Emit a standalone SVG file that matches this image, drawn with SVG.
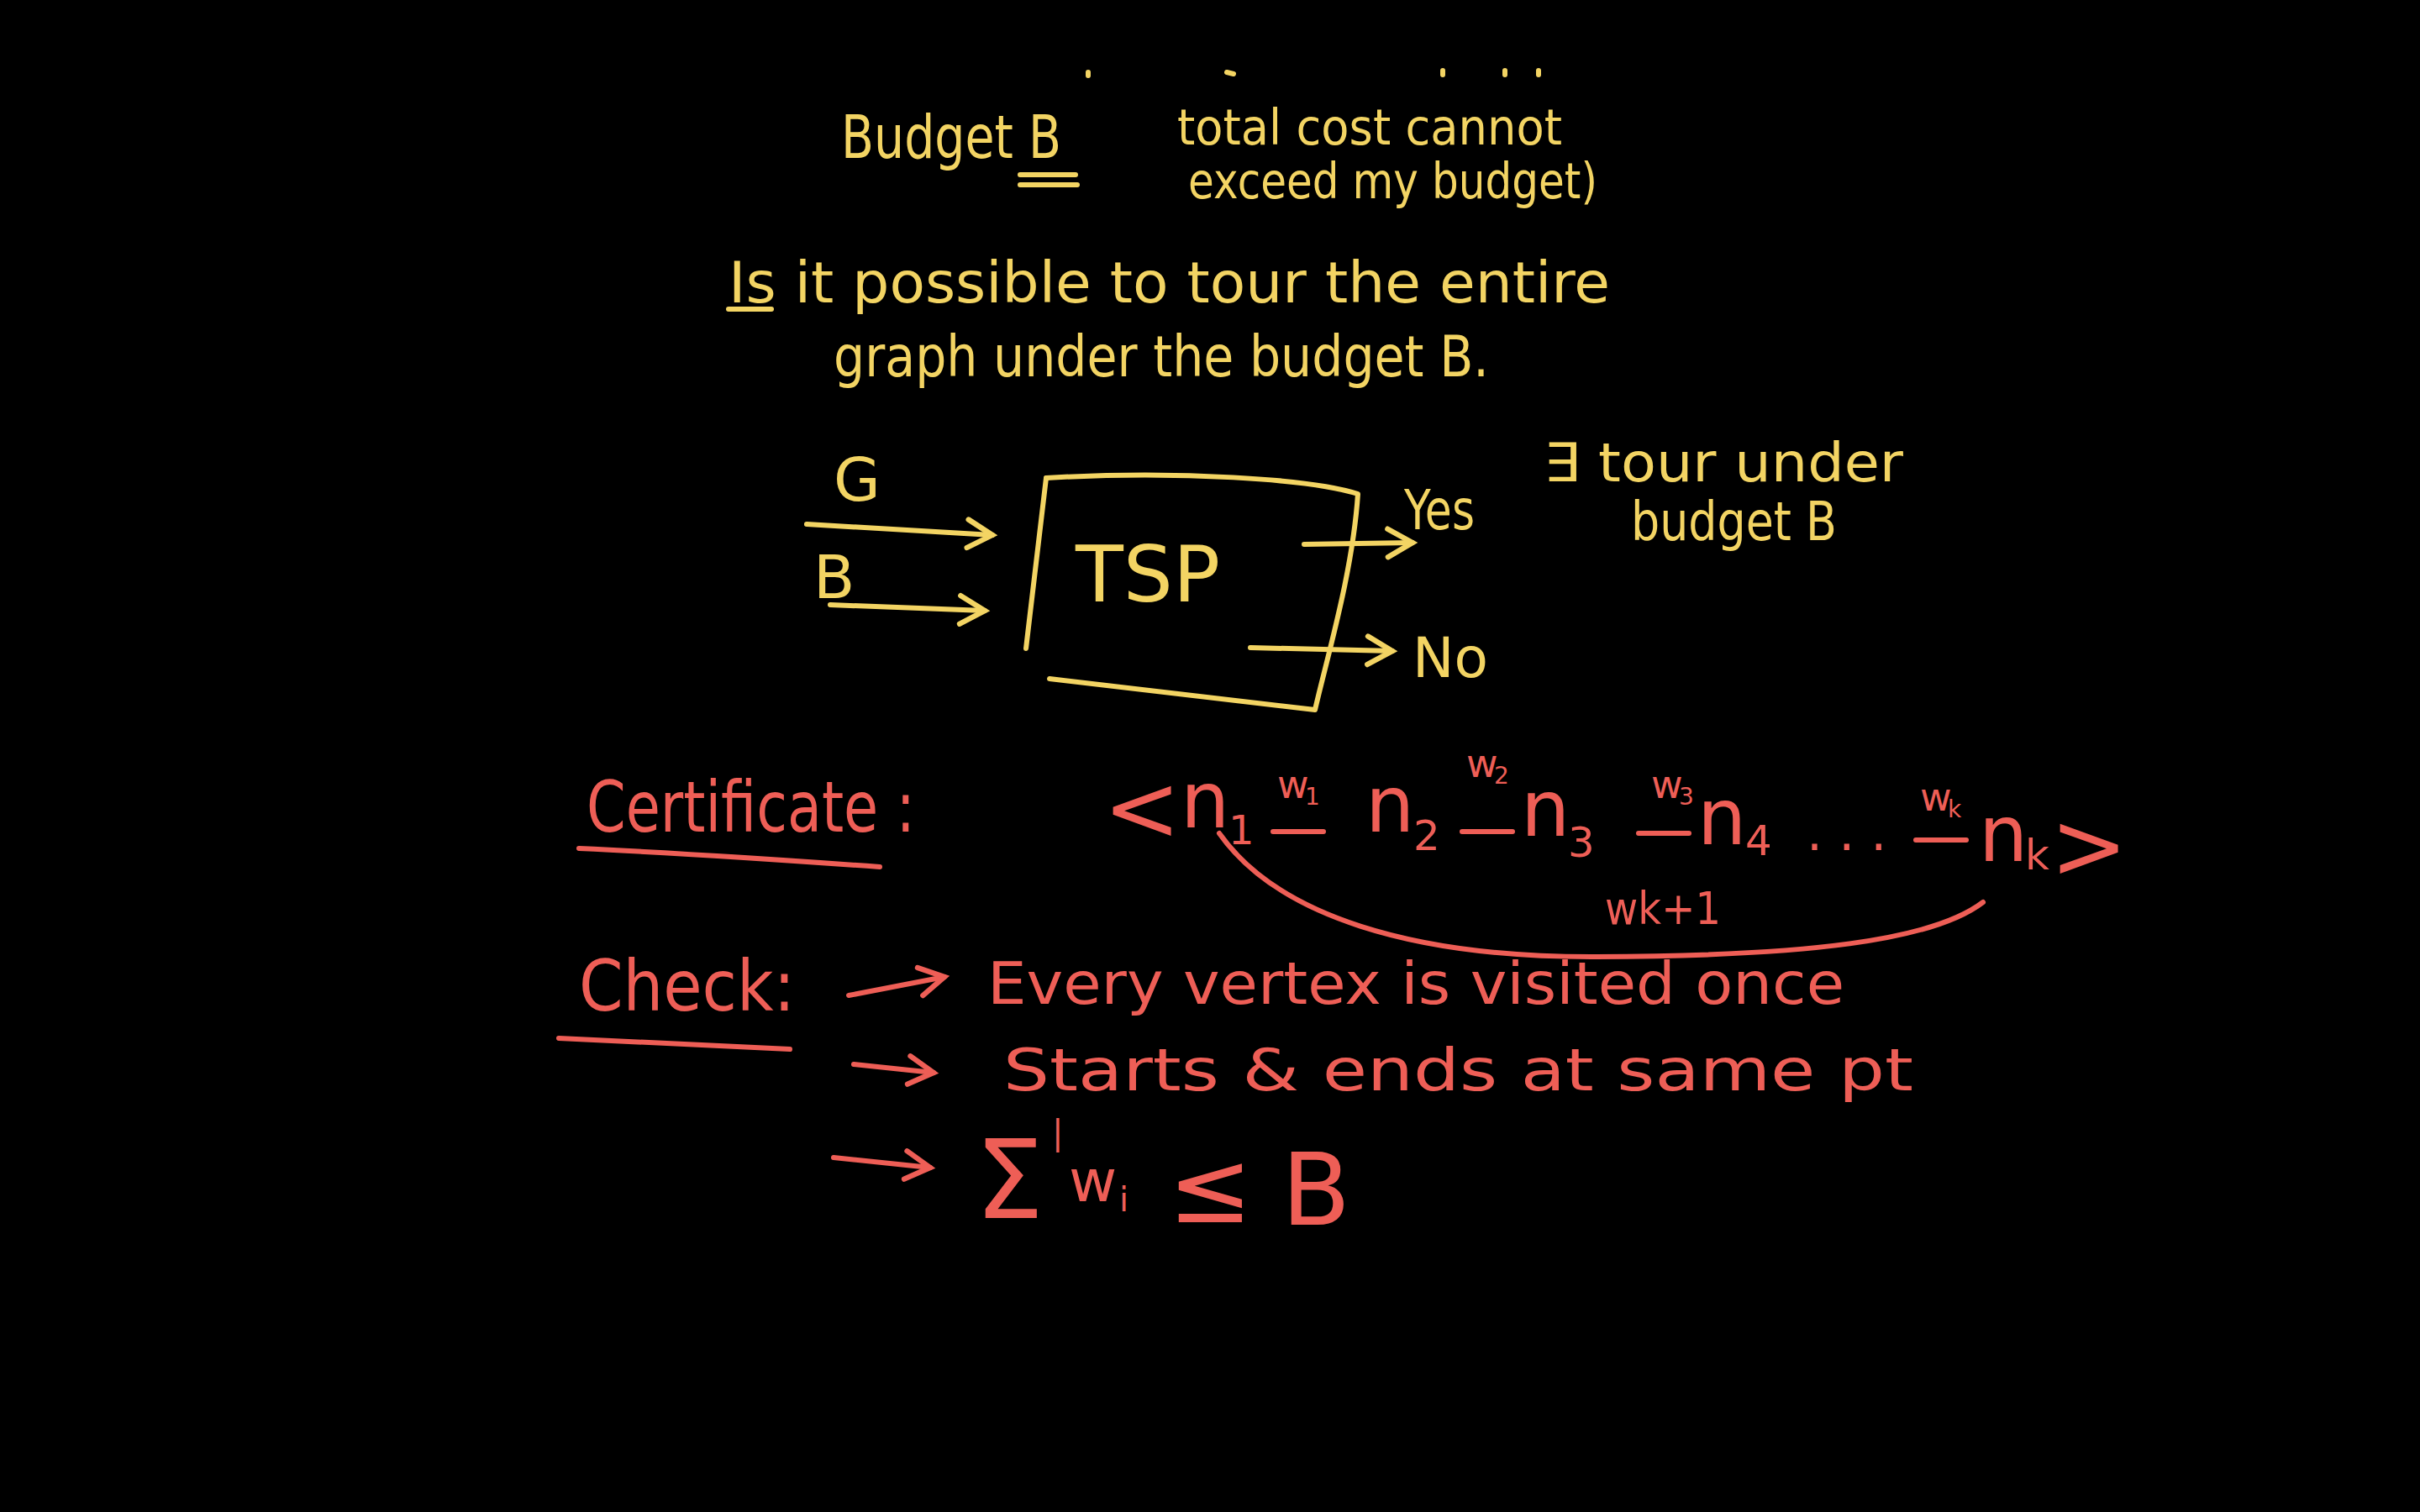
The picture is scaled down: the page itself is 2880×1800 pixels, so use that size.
<svg xmlns="http://www.w3.org/2000/svg" width="2880" height="1800" viewBox="0 0 2880 1800">
<defs>
<style>
.y{fill:#f3d463;font-family:"DejaVu Sans",sans-serif;}
.r{fill:#ee5e56;font-family:"DejaVu Sans",sans-serif;}
.ys{stroke:#f3d463;stroke-width:6;fill:none;stroke-linecap:round;stroke-linejoin:round;}
.rs{stroke:#ee5e56;stroke-width:6;fill:none;stroke-linecap:round;stroke-linejoin:round;}
</style>
<marker id="ya" viewBox="0 0 20 20" refX="16" refY="10" markerWidth="7" markerHeight="7" orient="auto" markerUnits="strokeWidth"><path d="M2 2 L16 10 L2 18" fill="none" stroke="#f3d463" stroke-width="3" stroke-linecap="round"/></marker>
<marker id="ra" viewBox="0 0 20 20" refX="16" refY="10" markerWidth="7" markerHeight="7" orient="auto" markerUnits="strokeWidth"><path d="M2 2 L16 10 L2 18" fill="none" stroke="#ee5e56" stroke-width="3" stroke-linecap="round"/></marker>
</defs>
<rect width="2880" height="1800" fill="#000"/>

<g id="top-marks" class="ys" stroke-width="3">
<path d="M1295 86 l0 4"/><path d="M1460 86 l8 2"/><path d="M1717 84 l0 5"/><path d="M1791 84 l0 5"/><path d="M1831 84 l0 5"/>
</g>

<g id="budget">
<text class="y" x="1001" y="188" font-size="72" textLength="262" lengthAdjust="spacingAndGlyphs">Budget  B</text>
<path class="ys" d="M1214 208 L1280 208 M1214 220 L1282 220"/>
<text class="y" x="1401" y="172" font-size="58" textLength="458" lengthAdjust="spacingAndGlyphs">total  cost  cannot</text>
<text class="y" x="1414" y="236" font-size="58" textLength="487" lengthAdjust="spacingAndGlyphs">exceed  my  budget)</text>
</g>

<g id="question">
<text class="y" x="867" y="360" font-size="68" textLength="1049" lengthAdjust="spacingAndGlyphs">Is  it   possible to  tour  the  entire</text>
<path class="ys" d="M867 368 L918 368"/>
<text class="y" x="992" y="448" font-size="68" textLength="780" lengthAdjust="spacingAndGlyphs">graph  under  the  budget  B.</text>
</g>

<g id="tsp">
<path class="ys" d="M1245 569 C1400 560 1560 570 1616 588 C1610 680 1580 780 1565 845 L1249 808"/>
<path class="ys" d="M1245 569 L1221 772"/>
<text class="y" x="1280" y="716" font-size="92" textLength="172" lengthAdjust="spacingAndGlyphs">TSP</text>
</g>

<g id="inputs">
<text class="y" x="992" y="596" font-size="72">G</text>
<text class="y" x="968" y="712" font-size="72">B</text>
</g>

<g id="outputs">
<text class="y" x="1671" y="630" font-size="66" textLength="84" lengthAdjust="spacingAndGlyphs">Yes</text>
<text class="y" x="1681" y="806" font-size="66" textLength="90" lengthAdjust="spacingAndGlyphs">No</text>
<text class="y" x="1837" y="573" font-size="64" textLength="428" lengthAdjust="spacingAndGlyphs">∃ tour  under</text>
<text class="y" x="1941" y="643" font-size="64" textLength="245" lengthAdjust="spacingAndGlyphs">budget B</text>
</g>

<g id="connectors">
<path class="ys" d="M960 624 L1181 637" marker-end="url(#ya)"/>
<path class="ys" d="M988 720 L1172 727" marker-end="url(#ya)"/>
<path class="ys" d="M1552 648 L1681 646" marker-end="url(#ya)"/>
<path class="ys" d="M1488 771 L1657 775" marker-end="url(#ya)"/>
<path class="rs" d="M1010 1185 L1124 1163" marker-end="url(#ra)"/>
<path class="rs" d="M1016 1267 L1111 1277" marker-end="url(#ra)"/>
<path class="rs" d="M992 1378 L1107 1390" marker-end="url(#ra)"/>
<path class="rs" d="M1451 992 C1520 1090 1680 1140 1900 1139 C2150 1138 2300 1120 2360 1074"/>
</g>

<g id="certificate">
<text class="r" x="698" y="990" font-size="84" textLength="391" lengthAdjust="spacingAndGlyphs">Certificate :</text>
<path class="rs" d="M689 1010 C800 1015 950 1025 1047 1032"/>
<text class="r" x="1313" y="1000" font-size="110">&lt;</text>
<text class="r" x="1405" y="985" font-size="92">n</text>
<text class="r" x="1462" y="1005" font-size="48">1</text>
<text class="r" x="1520" y="950" font-size="46">w</text><text class="r" x="1553" y="958" font-size="28">1</text>
<path class="rs" d="M1515 990 L1575 990"/>
<text class="r" x="1625" y="990" font-size="92">n</text>
<text class="r" x="1682" y="1012" font-size="50">2</text>
<text class="r" x="1745" y="925" font-size="46">w</text><text class="r" x="1778" y="933" font-size="28">2</text>
<path class="rs" d="M1740 990 L1800 990"/>
<text class="r" x="1810" y="995" font-size="92">n</text>
<text class="r" x="1866" y="1020" font-size="50">3</text>
<text class="r" x="1965" y="950" font-size="46">w</text><text class="r" x="1998" y="958" font-size="28">3</text>
<path class="rs" d="M1950 992 L2010 992"/>
<text class="r" x="2020" y="1005" font-size="92">n</text>
<text class="r" x="2077" y="1018" font-size="50">4</text>
<text class="r" x="2150" y="1012" font-size="60">. . .</text>
<text class="r" x="2285" y="965" font-size="46">w</text><text class="r" x="2318" y="973" font-size="28">k</text>
<path class="rs" d="M2280 1000 L2340 1000"/>
<text class="r" x="2355" y="1025" font-size="92">n</text>
<text class="r" x="2410" y="1035" font-size="50">k</text>
<text class="r" x="2440" y="1045" font-size="110">&gt;</text>
<text class="r" x="1910" y="1100" font-size="54" textLength="138" lengthAdjust="spacingAndGlyphs">wk+1</text>
</g>

<g id="check">
<text class="r" x="689" y="1203" font-size="84" textLength="257" lengthAdjust="spacingAndGlyphs">Check:</text>
<path class="rs" d="M665 1236 L940 1249"/>
<text class="r" x="1175" y="1195" font-size="70" textLength="1020" lengthAdjust="spacingAndGlyphs">Every  vertex  is  visited  once</text>
<text class="r" x="1194" y="1298" font-size="70" textLength="1083" lengthAdjust="spacingAndGlyphs">Starts &amp; ends  at  same  pt</text>
<text class="r" x="1160" y="1450" font-size="130">Σ</text>
<text class="r" x="1252" y="1362" font-size="40">|</text>
<text class="r" x="1272" y="1430" font-size="70">w</text>
<text class="r" x="1332" y="1442" font-size="40">i</text>
<text class="r" x="1390" y="1455" font-size="120">≤</text>
<text class="r" x="1525" y="1458" font-size="120">B</text>
</g>
</svg>
